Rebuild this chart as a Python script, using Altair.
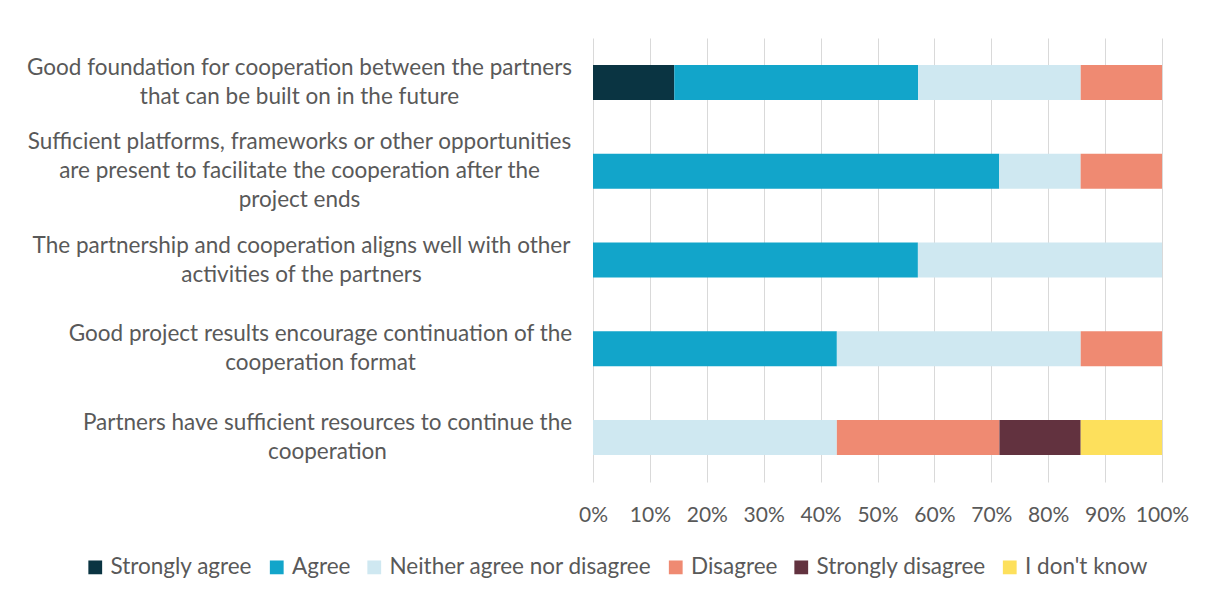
import altair as alt
import pandas as pd

statements = [
    "Good foundation for cooperation between the partners\nthat can be built on in the future",
    "Sufficient platforms, frameworks or other opportunities\nare present to facilitate the cooperation after the\nproject ends",
    "The partnership and cooperation aligns well with other\nactivities of the partners",
    "Good project results encourage continuation of the\ncooperation format",
    "Partners have sufficient resources to continue the\ncooperation",
]
responses = ["Strongly agree", "Agree", "Neither agree nor disagree",
             "Disagree", "Strongly disagree", "I don't know"]
colors = ["#0a3442", "#12a5ca", "#cfe8f1", "#ef8a72", "#62323f", "#fde05c"]

# percent of respondents per statement, in the order of `responses`
strongly_agree    = [14.3, 0.0, 0.0, 0.0, 0.0]
agree             = [42.9, 71.4, 57.1, 42.9, 0.0]
neither           = [28.6, 14.3, 42.9, 42.9, 42.9]
disagree          = [14.3, 14.3, 0.0, 14.3, 28.6]
strongly_disagree = [0.0, 0.0, 0.0, 0.0, 14.3]
dont_know         = [0.0, 0.0, 0.0, 0.0, 14.3]

series = [strongly_agree, agree, neither, disagree, strongly_disagree, dont_know]
rows = []
for ri, (resp, vals) in enumerate(zip(responses, series)):
    for s, v in zip(statements, vals):
        rows.append({"statement": s, "response": resp, "order": ri, "pct": v})
df = pd.DataFrame(rows)

LINE_H = 29
# label centre offsets (layout only)
pads = [294, 294, 292, 273, 266]


def test_for(s):
    return "datum.value == " + repr(s).replace("\n", "\\n")


pad_cond = {
    "condition": [{"test": test_for(s), "value": p} for s, p in zip(statements, pads)],
    "value": 280,
}
offset_cond = {
    "condition": [
        {"test": test_for(s), "value": -(s.count("\n")) * LINE_H / 2}
        for s in statements
    ],
    "value": 0,
}

font = "Lato"
grey = "#595959"

chart = alt.Chart(df).mark_bar().encode(
    x=alt.X("pct:Q", stack="normalize",
            scale=alt.Scale(domain=[0, 1]),
            axis=alt.Axis(format=".0%", values=[i / 10 for i in range(11)],
                          title=None, grid=True, gridColor="#d9d9d9",
                          domain=False, ticks=False, labelPadding=22,
                          labelOverlap=False, labelFlush=False,
                          labelFontSize=21, labelColor=grey, labelFont=font)),
    y=alt.Y("statement:N", sort=statements, title=None,
            scale=alt.Scale(paddingInner=0.606, paddingOuter=0.303),
            axis=alt.Axis(labelExpr="split(datum.label, '\\n')",
                          labelAlign="center", labelPadding=pad_cond,
                          labelOffset=offset_cond,
                          ticks=False, domain=False, labelLimit=0,
                          labelFontSize=22.5, labelColor=grey, labelFont=font,
                          labelLineHeight=LINE_H)),
    color=alt.Color("response:N", sort=responses,
                    scale=alt.Scale(domain=responses, range=colors),
                    legend=alt.Legend(title=None, orient="none", direction="horizontal",
                                      legendX=-509, legendY=518,
                                      symbolType="square", symbolSize=190,
                                      symbolStrokeWidth=0, labelLimit=0,
                                      labelFontSize=22.5, labelColor=grey, labelFont=font,
                                      columnPadding=12.5, labelOffset=4)),
    order=alt.Order("order:Q"),
).properties(
    width=569, height=444,
    padding={"top": 30, "left": 18, "right": 5, "bottom": 10},
).configure_view(stroke=None)

chart.save("out.html", embed_options={"renderer": "svg", "actions": False})
